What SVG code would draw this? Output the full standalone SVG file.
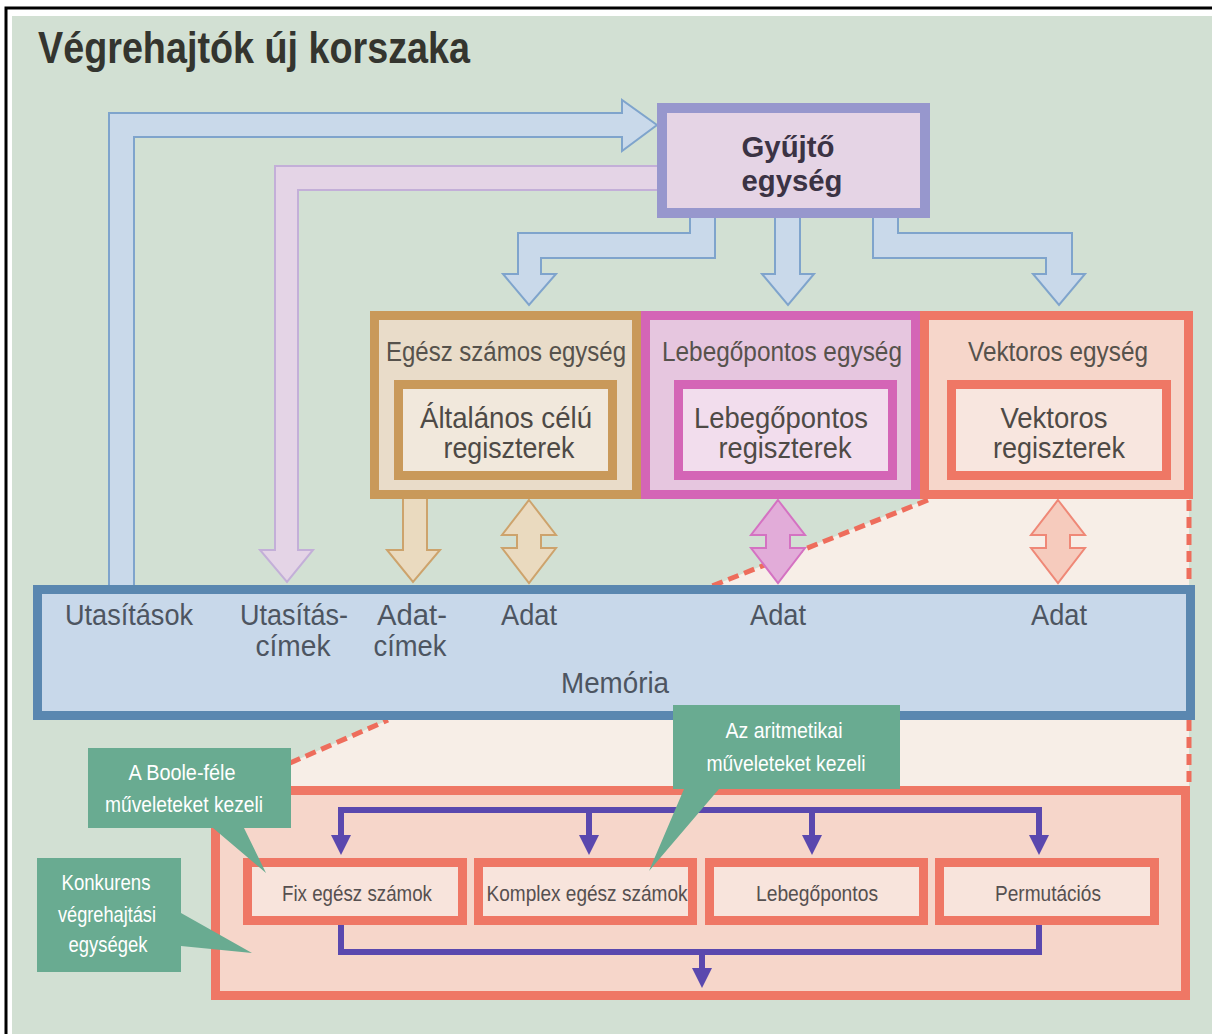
<svg xmlns="http://www.w3.org/2000/svg" width="1212" height="1034" viewBox="0 0 1212 1034">
  <defs>
    <style>
      .t { font-family: "Liberation Sans Narrow", "Liberation Sans", Arial, sans-serif; }
      .title { font-size: 44px; font-weight: bold; fill: #34352f; }
      .head { font-size: 30px; font-weight: bold; fill: #3b3344; text-anchor: middle; }
      .unit { font-size: 27px; fill: #56524c; text-anchor: middle; }
      .reg { font-size: 29px; fill: #4e4a46; text-anchor: middle; }
      .mem { font-size: 30px; fill: #4d5561; text-anchor: middle; }
      .ex { font-size: 22px; fill: #565050; text-anchor: middle; }
      .note { font-size: 22px; fill: #ffffff; text-anchor: middle; }
      .blk { stroke-width: 2; stroke-linejoin: miter; }
      .blue { fill: #c9d9ea; stroke: #7fa4cc; }
      .lav { fill: #e4d4e6; stroke: #c3afd8; }
      .tanA { fill: #eadabf; stroke: #cda36c; }
      .magA { fill: #e2acd9; stroke: #d472c2; }
      .salA { fill: #f6cbbd; stroke: #ef8877; }
      .dash { fill: none; stroke: #ee6d5c; stroke-width: 5; stroke-dasharray: 11 6; }
      .cream { fill: #f7eee7; }
      .bus { fill: none; stroke: #5a48ae; stroke-width: 6; }
      .callout { fill: #69ab91; }
    </style>
    <!-- short double-headed block arrow, centred on x = 0 -->
    <path id="dbl" d="M0,500 L27,535 L12,535 L12,548 L27,548 L0,583 L-27,548 L-12,548 L-12,535 L-27,535 Z"/>
    <marker id="head" viewBox="0 -10 20 20" refX="0" refY="0" markerWidth="20" markerHeight="20" markerUnits="userSpaceOnUse" orient="auto">
      <path d="M0,-10 L20,0 L0,10 Z" fill="#5a48ae"/>
    </marker>
  </defs>

  <!-- page and frame -->
  <rect x="0" y="0" width="1212" height="1034" fill="#ffffff"/>
  <rect x="6" y="8" width="1212" height="1030" fill="none" stroke="#000000" stroke-width="3"/>
  <rect x="12" y="16" width="1200" height="1018" fill="#d2e0d3"/>

  <text class="t title" x="38" y="63" textLength="432" lengthAdjust="spacingAndGlyphs">Végrehajtók új korszaka</text>

  <!-- magnified view of the vector unit -->
  <g id="zoom-guides">
    <polygon class="cream" points="928,499 1189,499 1189,586 712,586"/>
    <polygon class="cream" points="388,720 1189,720 1189,787 290,787 290,763"/>
    <line class="dash" x1="928" y1="500" x2="712" y2="586"/>
    <line class="dash" x1="1189" y1="500" x2="1189" y2="586"/>
    <line class="dash" x1="290" y1="763" x2="388" y2="720"/>
    <line class="dash" x1="1189" y1="720" x2="1189" y2="787"/>
  </g>

  <g id="connectors">
    <!-- instructions: memory to fetch unit -->
    <polygon class="blk blue" points="109,588 109,113 622,113 622,100 657,125 622,151 622,137 134,137 134,588"/>
    <!-- instruction addresses: fetch unit to memory -->
    <polygon class="blk lav" points="662,166 275,166 275,550 260,550 287,582 313,550 298,550 298,190 662,190"/>
    <!-- dispatch from fetch unit to the three execution units -->
    <polygon class="blk blue" points="715,214 715,258 541,258 541,274 556,274 529,305 503,274 518,274 518,233 690,233 690,214"/>
    <polygon class="blk blue" points="775,214 775,274 762,274 788,305 814,274 800,274 800,214"/>
    <polygon class="blk blue" points="873,214 873,258 1046,258 1046,274 1033,274 1059,305 1085,274 1072,274 1072,233 898,233 898,214"/>
    <!-- data addresses -->
    <polygon class="blk tanA" points="403,496 403,550 387,550 413,582 440,550 427,550 427,496"/>
    <!-- data paths -->
    <use href="#dbl" class="blk tanA" x="529"/>
    <use href="#dbl" class="blk magA" x="778"/>
    <use href="#dbl" class="blk salA" x="1058"/>
  </g>

  <g id="fetch-unit">
    <rect x="662" y="108" width="263" height="105" fill="#e5d4e5" stroke="#9797cd" stroke-width="10"/>
    <text class="t head" x="788" y="157" textLength="93" lengthAdjust="spacingAndGlyphs">Gyűjtő</text>
    <text class="t head" x="792" y="191" textLength="101" lengthAdjust="spacingAndGlyphs">egység</text>
  </g>

  <g id="integer-unit">
    <rect x="374.5" y="315.5" width="262" height="179" fill="#e9dcc9" stroke="#c9995a" stroke-width="9"/>
    <text class="t unit" x="506" y="361" textLength="240" lengthAdjust="spacingAndGlyphs">Egész számos egység</text>
    <rect x="398.5" y="384.5" width="214" height="91" fill="#f1e8dc" stroke="#c9995a" stroke-width="9"/>
    <text class="t reg" x="506" y="428" textLength="172" lengthAdjust="spacingAndGlyphs">Általános célú</text>
    <text class="t reg" x="509" y="458" textLength="131" lengthAdjust="spacingAndGlyphs">regiszterek</text>
  </g>

  <g id="float-unit">
    <rect x="645.5" y="315.5" width="270" height="179" fill="#e6c6df" stroke="#d465b6" stroke-width="9"/>
    <text class="t unit" x="782" y="361" textLength="240" lengthAdjust="spacingAndGlyphs">Lebegőpontos egység</text>
    <rect x="678.5" y="384.5" width="214" height="91" fill="#f2dded" stroke="#d465b6" stroke-width="9"/>
    <text class="t reg" x="781" y="428" textLength="174" lengthAdjust="spacingAndGlyphs">Lebegőpontos</text>
    <text class="t reg" x="785" y="458" textLength="133" lengthAdjust="spacingAndGlyphs">regiszterek</text>
  </g>

  <g id="vector-unit">
    <rect x="924.5" y="315.5" width="264" height="179" fill="#f6d6ca" stroke="#ef7765" stroke-width="9"/>
    <text class="t unit" x="1058" y="361" textLength="180" lengthAdjust="spacingAndGlyphs">Vektoros egység</text>
    <rect x="951.5" y="384.5" width="215" height="91" fill="#f8e6df" stroke="#ef7765" stroke-width="9"/>
    <text class="t reg" x="1054" y="428" textLength="107" lengthAdjust="spacingAndGlyphs">Vektoros</text>
    <text class="t reg" x="1059" y="458" textLength="132" lengthAdjust="spacingAndGlyphs">regiszterek</text>
  </g>

  <g id="memory">
    <rect x="37.5" y="589.5" width="1153" height="126" fill="#c8d8ea" stroke="#5a87b0" stroke-width="9"/>
    <text class="t mem" x="129" y="625" textLength="128" lengthAdjust="spacingAndGlyphs">Utasítások</text>
    <text class="t mem" x="294" y="625" textLength="108" lengthAdjust="spacingAndGlyphs">Utasítás-</text>
    <text class="t mem" x="293" y="656" textLength="75" lengthAdjust="spacingAndGlyphs">címek</text>
    <text class="t mem" x="412" y="625" textLength="70" lengthAdjust="spacingAndGlyphs">Adat-</text>
    <text class="t mem" x="410" y="656" textLength="73" lengthAdjust="spacingAndGlyphs">címek</text>
    <text class="t mem" x="529" y="625" textLength="56" lengthAdjust="spacingAndGlyphs">Adat</text>
    <text class="t mem" x="778" y="625" textLength="56" lengthAdjust="spacingAndGlyphs">Adat</text>
    <text class="t mem" x="1059" y="625" textLength="56" lengthAdjust="spacingAndGlyphs">Adat</text>
    <text class="t mem" x="615" y="693" textLength="108" lengthAdjust="spacingAndGlyphs">Memória</text>
  </g>

  <g id="exec-units">
    <rect x="215.5" y="790.5" width="970" height="205" fill="#f6d6ca" stroke="#ef7765" stroke-width="9"/>
    <g id="exec-fix">
      <rect x="247.5" y="862.5" width="215" height="58" fill="#f8e4dc" stroke="#ef7765" stroke-width="9"/>
      <text class="t ex" x="357" y="901" textLength="150" lengthAdjust="spacingAndGlyphs">Fix egész számok</text>
    </g>
    <g id="exec-complex">
      <rect x="478.5" y="862.5" width="214" height="58" fill="#f8e4dc" stroke="#ef7765" stroke-width="9"/>
      <text class="t ex" x="587" y="901" textLength="201" lengthAdjust="spacingAndGlyphs">Komplex egész számok</text>
    </g>
    <g id="exec-float">
      <rect x="709.5" y="862.5" width="214" height="58" fill="#f8e4dc" stroke="#ef7765" stroke-width="9"/>
      <text class="t ex" x="817" y="901" textLength="122" lengthAdjust="spacingAndGlyphs">Lebegőpontos</text>
    </g>
    <g id="exec-perm">
      <rect x="939.5" y="862.5" width="215" height="58" fill="#f8e4dc" stroke="#ef7765" stroke-width="9"/>
      <text class="t ex" x="1048" y="901" textLength="106" lengthAdjust="spacingAndGlyphs">Permutációs</text>
    </g>
  </g>

  <g id="exec-bus">
    <path class="bus" d="M338,810 H1042"/>
    <path class="bus" d="M341,810 V835" marker-end="url(#head)"/>
    <path class="bus" d="M589,810 V835" marker-end="url(#head)"/>
    <path class="bus" d="M812,810 V835" marker-end="url(#head)"/>
    <path class="bus" d="M1039,810 V835" marker-end="url(#head)"/>
    <path class="bus" d="M341,925 V952 H1039 V925"/>
    <path class="bus" d="M702,952 V968" marker-end="url(#head)"/>
  </g>

  <g id="note-boole">
    <path class="callout" d="M88,748 H291 V828 H244 L266,873 L213,828 H88 Z"/>
    <text class="t note" x="182" y="780" textLength="107" lengthAdjust="spacingAndGlyphs">A Boole-féle</text>
    <text class="t note" x="184" y="812" textLength="158" lengthAdjust="spacingAndGlyphs">műveleteket kezeli</text>
  </g>

  <g id="note-concurrent">
    <path class="callout" d="M37,858 H181 V913 L252,953 L181,946 V972 H37 Z"/>
    <text class="t note" x="106" y="890" textLength="89" lengthAdjust="spacingAndGlyphs">Konkurens</text>
    <text class="t note" x="107" y="922" textLength="98" lengthAdjust="spacingAndGlyphs">végrehajtási</text>
    <text class="t note" x="108" y="952" textLength="79" lengthAdjust="spacingAndGlyphs">egységek</text>
  </g>

  <g id="note-arith">
    <path class="callout" d="M673,705 H900 V789 H719 L649,871 L684,789 H673 Z"/>
    <text class="t note" x="784" y="738" textLength="117" lengthAdjust="spacingAndGlyphs">Az aritmetikai</text>
    <text class="t note" x="786" y="771" textLength="159" lengthAdjust="spacingAndGlyphs">műveleteket kezeli</text>
  </g>
</svg>
